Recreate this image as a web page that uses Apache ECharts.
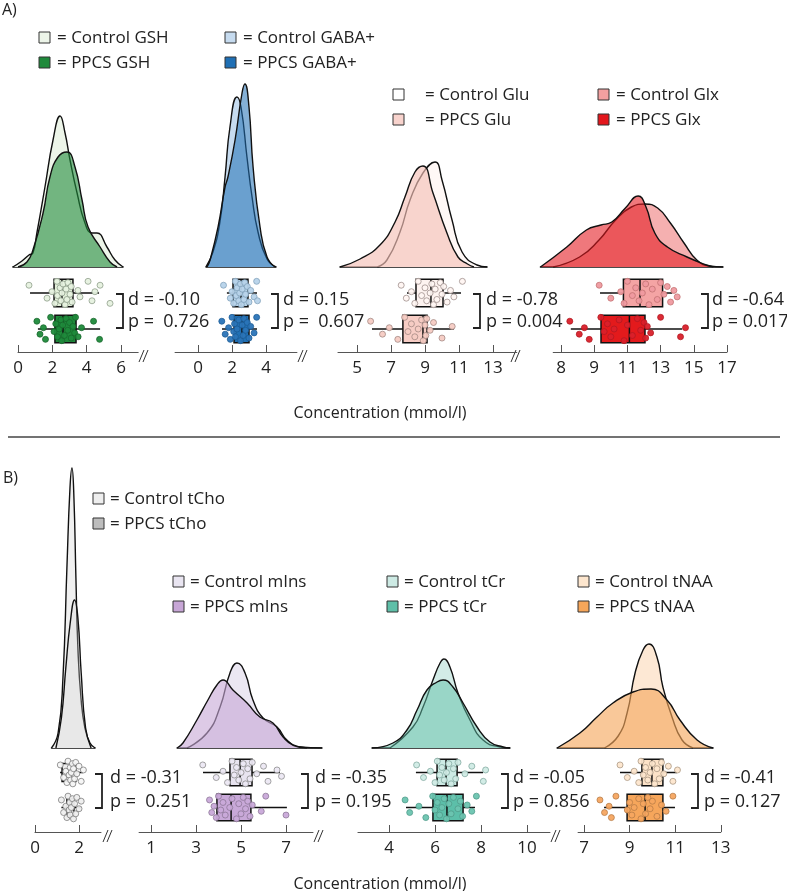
<!DOCTYPE html>
<html>
<head>
<meta charset="utf-8">
<script src="https://cdn.jsdelivr.net/npm/echarts@6/dist/echarts.min.js"></script>
<style>
  html, body { margin: 0; padding: 0; background: #fff; }
  #chart { width: 787px; height: 891px; }
</style>
</head>
<body>
<div id="chart"></div>
<script>
// metabolites, in drawing order (row A then row B)
const metabolites = ['GSH', 'GABA+', 'Glu', 'Glx', 'tCho', 'mIns', 'tCr', 'tNAA'];

// density curves [concentration, density (arbitrary units)]
const gshCtrlDensity = [[-0.3, 0], [0.23, 6], [0.64, 12], [0.87, 14], [1.1, 34], [1.57, 80], [2.04, 127], [2.45, 151], [2.74, 134], [3.03, 107], [3.44, 74], [3.9, 44], [4.31, 34], [4.6, 34], [5.18, 20], [5.65, 7], [6.12, 0]];
const gshPpcsDensity = [[0, 0], [0.52, 5], [0.87, 17], [1.46, 54], [1.86, 90], [2.33, 110], [2.85, 115], [3.32, 100], [3.73, 67], [4.08, 40], [4.78, 20], [5.36, 5], [5.77, 0]];
const gabaCtrlDensity = [[0.47, 0], [0.88, 15], [1.29, 45], [1.59, 90], [1.88, 140], [2.29, 170], [2.53, 160], [2.88, 110], [3.18, 70], [3.53, 35], [4.06, 8], [4.59, 0]];
const gabaPpcsDensity = [[0.53, 0], [0.71, 7], [1.18, 40], [1.59, 80], [1.76, 90], [2.18, 127], [2.59, 174], [2.76, 183], [3.0, 160], [3.24, 100], [3.65, 40], [4.06, 10], [4.53, 0]];
const gluCtrlDensity = [[6.2, 0], [6.76, 7], [7.53, 35], [8.12, 67], [8.88, 94], [9.59, 105], [10.0, 87], [10.59, 47], [11.18, 15], [12.06, 2], [12.65, 0]];
const gluPpcsDensity = [[4.0, 0], [5.18, 8], [6.35, 22], [7.24, 45], [7.82, 70], [8.41, 95], [8.88, 101], [9.47, 74], [10.29, 34], [10.94, 10], [11.5, 3], [11.88, 0]];
const glxCtrlDensity = [[6.53, 0], [8.12, 10], [9.29, 27], [10.29, 47], [11.24, 60], [12.06, 63], [12.82, 59], [13.59, 44], [14.41, 24], [15.18, 7], [15.94, 1], [16.76, 0]];
const glxPpcsDensity = [[5.76, 0], [7.35, 20], [8.53, 37], [9.41, 42], [10.06, 45], [10.88, 59], [11.65, 71], [12.12, 60], [12.65, 34], [13.41, 20], [14.59, 10], [15.76, 2], [16.18, 0]];
const tchoCtrlDensity = [[0.75, 0], [1.05, 15], [1.27, 70], [1.45, 180], [1.59, 260], [1.68, 280], [1.77, 250], [1.86, 170], [1.95, 100], [2.09, 50], [2.27, 20], [2.5, 5], [2.73, 0]];
const tchoPpcsDensity = [[0.95, 0], [1.2, 30], [1.4, 80], [1.6, 125], [1.8, 148], [1.95, 130], [2.1, 75], [2.3, 20], [2.55, 0]];
const minsCtrlDensity = [[2.6, 0], [3.49, 15], [4.07, 41], [4.51, 75], [4.82, 85], [5.18, 75], [5.53, 48], [5.98, 30], [6.6, 21], [7.04, 8], [7.62, 1], [8.6, 0]];
const minsPpcsDensity = [[2.16, 0], [2.42, 5], [3.04, 28], [3.53, 48], [3.93, 63], [4.2, 68], [4.64, 58], [5.27, 45], [5.84, 31], [6.42, 25], [6.87, 11], [7.31, 3], [7.93, 0]];
const tcrCtrlDensity = [[4.04, 0], [5.04, 21], [5.48, 41], [5.91, 68], [6.22, 85], [6.39, 89], [6.65, 81], [7.0, 55], [7.52, 28], [8.09, 8], [8.83, 1], [9.26, 0]];
const tcrPpcsDensity = [[3.26, 0], [4.17, 5], [4.78, 18], [5.22, 38], [5.65, 58], [6.09, 66], [6.35, 68], [6.78, 61], [7.22, 45], [7.83, 21], [8.39, 6], [8.96, 1], [9.26, 0]];
const tnaaCtrlDensity = [[7.9, 0], [8.5, 12], [8.89, 35], [9.24, 75], [9.59, 98], [9.85, 104], [10.2, 91], [10.46, 61], [10.86, 31], [11.3, 8], [11.78, 0]];
const tnaaPpcsDensity = [[5.82, 0], [6.82, 15], [7.57, 31], [8.27, 45], [9.15, 56], [9.94, 59], [10.64, 48], [11.21, 28], [11.96, 8], [12.66, 0]];

// box plots [min, Q1, median, Q3, max]
const gshCtrlBox = [0.70, 2.10, 2.56, 3.20, 4.72];
const gshPpcsBox = [1.16, 2.15, 2.62, 3.38, 4.78];
const gabaCtrlBox = [1.70, 2.06, 2.53, 2.94, 3.47];
const gabaPpcsBox = [1.41, 2.12, 2.59, 3.00, 3.47];
const gluCtrlBox = [7.94, 8.47, 9.35, 10.06, 11.12];
const gluPpcsBox = [5.88, 7.70, 8.88, 9.12, 10.70];
const glxCtrlBox = [9.35, 10.76, 11.76, 13.12, 13.70];
const glxPpcsBox = [7.59, 9.41, 11.12, 12.06, 14.30];
const tchoCtrlBox = [1.14, 1.23, 1.64, 1.86, 2.18];
const tchoPpcsBox = [1.20, 1.45, 1.59, 1.77, 2.10];
const minsCtrlBox = [3.31, 4.51, 4.96, 5.49, 6.73];
const minsPpcsBox = [3.80, 3.93, 4.56, 5.44, 7.04];
const tcrCtrlBox = [5.17, 6.09, 6.48, 6.96, 8.09];
const tcrPpcsBox = [4.74, 5.91, 6.52, 7.22, 7.74];
const tnaaCtrlBox = [8.58, 9.54, 9.98, 10.46, 11.08];
const tnaaPpcsBox = [7.88, 8.89, 9.68, 10.46, 10.99];

// individual subjects (mmol/l)
const gshCtrlPts = [0.64, 1.69, 1.98, 2.15, 2.27, 2.3, 2.45, 2.5, 2.56, 2.62, 2.74, 2.8, 2.85, 2.91, 3.03, 3.1, 3.15, 3.49, 3.61, 4.08, 4.31, 4.48, 4.78, 5.36];
const gshPpcsPts = [1.1, 1.28, 1.48, 1.6, 1.9, 2.1, 2.2, 2.3, 2.4, 2.5, 2.55, 2.6, 2.7, 2.8, 2.9, 3.0, 3.1, 3.2, 3.3, 3.35, 3.5, 3.7, 4.4, 4.75];
const gabaCtrlPts = [1.5, 1.9, 2.0, 2.1, 2.2, 2.25, 2.3, 2.4, 2.45, 2.5, 2.55, 2.6, 2.7, 2.75, 2.8, 2.9, 3.0, 3.1, 3.3, 3.45, 3.5];
const gabaPpcsPts = [1.4, 1.6, 1.8, 1.9, 2.0, 2.1, 2.15, 2.2, 2.3, 2.4, 2.5, 2.6, 2.65, 2.7, 2.8, 2.9, 3.0, 3.1, 3.3, 3.45];
const gluCtrlPts = [7.6, 7.9, 8.2, 8.4, 8.6, 8.8, 9.0, 9.1, 9.3, 9.4, 9.5, 9.6, 9.7, 9.9, 10.0, 10.1, 10.3, 10.5, 10.7, 11.2];
const gluPpcsPts = [5.8, 6.5, 6.9, 7.4, 7.8, 8.0, 8.2, 8.4, 8.6, 8.8, 8.9, 9.0, 9.05, 9.1, 9.3, 9.5, 10.0, 10.6];
const glxCtrlPts = [9.3, 10.0, 10.6, 10.8, 11.0, 11.3, 11.5, 11.7, 11.9, 12.1, 12.3, 12.5, 12.8, 13.0, 13.2, 13.4, 13.6, 13.8, 14.0];
const glxPpcsPts = [7.53, 8.1, 8.41, 8.7, 9.4, 9.6, 9.8, 10.0, 10.2, 10.5, 10.8, 11.0, 11.3, 11.6, 11.8, 12.0, 12.1, 12.2, 12.4, 13.0, 14.2, 14.5];
const tchoCtrlPts = [1.15, 1.3, 1.4, 1.45, 1.5, 1.55, 1.6, 1.62, 1.65, 1.7, 1.72, 1.75, 1.8, 1.85, 1.9, 2.0, 2.1, 2.2];
const tchoPpcsPts = [1.2, 1.3, 1.4, 1.45, 1.5, 1.55, 1.58, 1.6, 1.65, 1.7, 1.75, 1.8, 1.85, 1.9, 2.0, 2.1];
const minsCtrlPts = [3.3, 3.9, 4.2, 4.4, 4.6, 4.7, 4.8, 4.9, 5.0, 5.1, 5.2, 5.3, 5.4, 5.5, 5.7, 6.0, 6.2, 6.6, 6.8];
const minsPpcsPts = [3.6, 3.7, 3.8, 3.9, 4.0, 4.1, 4.2, 4.3, 4.5, 4.6, 4.8, 4.9, 5.0, 5.1, 5.2, 5.3, 5.4, 5.5, 5.9, 6.1, 7.0];
const tcrCtrlPts = [5.2, 5.5, 5.8, 6.0, 6.1, 6.2, 6.3, 6.4, 6.5, 6.6, 6.7, 6.8, 6.9, 7.0, 7.3, 7.6, 8.1, 8.2];
const tcrPpcsPts = [4.7, 4.9, 5.3, 5.6, 5.9, 6.0, 6.1, 6.2, 6.3, 6.4, 6.5, 6.6, 6.7, 6.8, 7.0, 7.1, 7.2, 7.4, 7.6, 7.8];
const tnaaCtrlPts = [8.58, 8.9, 9.2, 9.4, 9.5, 9.6, 9.7, 9.8, 9.9, 10.0, 10.1, 10.2, 10.3, 10.4, 10.5, 10.7, 10.9, 11.1];
const tnaaPpcsPts = [7.7, 7.9, 8.1, 8.2, 8.4, 8.9, 9.0, 9.1, 9.2, 9.4, 9.5, 9.6, 9.7, 9.8, 9.9, 10.0, 10.2, 10.4, 10.6, 10.9];

// vertical scatter of the dots inside a box row (-1..1)
const jitter = [0.6, -0.4, 0.1, -0.8, 0.9, -0.2, 0.4, -0.6, 0.0, 0.7, -0.9, 0.3, -0.5, 0.8, -0.1, 0.5, -0.7, 0.2, -0.3, 0.9, -0.6, 0.1, 0.6, -0.8, 0.4];

// effect sizes and p values
const dLabels = ['-0.10', '0.15', '-0.78', '-0.64', '-0.31', '-0.35', '-0.05', '-0.41'];
const pLabels = [' 0.726', ' 0.607', '0.004', '0.017', ' 0.251', '0.195', '0.856', '0.127'];

// tick values and labels
const gshTicks = [0, 2, 4, 6];
const gabaTicks = [0, 2, 4];
const gluTicks = [5, 7, 9, 11, 13];
const glxTicks = [7, 9, 11, 13, 15, 17];
const glxTickLabels = ['8', '9', '11', '13', '15', '17'];
const tchoTicks = [0, 2];
const minsTicks = [1, 3, 5, 7];
const tcrTicks = [4, 6, 8, 10];
const tnaaTicks = [7, 9, 11, 13];

const axisTitle = 'Concentration (mmol/l)';

// colours per metabolite: c/p density fills (a = ppcs alpha), cd/ce and pd/pe dots, cb/pb boxes
const palette = {
    'GSH':   { c: '#edf5e9', p: '#1f8a3b', a: 0.6, cd: '#e6f1df', ce: '#8a9a86', pd: '#1f8a3b', pe: '#16652b', cb: '#e3f0da', pb: '#1f8a3b' },
    'GABA+': { c: '#c6dbef', p: '#1f6fb4', a: 0.55, cd: '#b7d3ea', ce: '#7f9fb8', pd: '#2a74b8', pe: '#1b5a94', cb: '#b9d5ea', pb: '#2171b5' },
    'Glu':   { c: '#fff8f6', p: '#f4c0b7', a: 0.65, cd: '#fff5f2', ce: '#9a8a88', pd: '#f6cbc3', pe: '#a08580', cb: '#fdf3f0', pb: '#f7cdc5' },
    'Glx':   { c: '#f5b0b0', p: '#e3171d', a: 0.58, cd: '#ef9aa0', ce: '#c07070', pd: '#d9202a', pe: '#b01820', cb: '#f4a4a4', pb: '#e31a1c' },
    'tCho':  { c: '#f0f0f0', p: '#d6d6d6', a: 0.3, cd: '#f5f5f5', ce: '#777777', pd: '#eeeeee', pe: '#777777', cb: '#eeeeee', pb: '#dddddd' },
    'mIns':  { c: '#ebe7f2', p: '#c7a6d6', a: 0.6, cd: '#ece8f3', ce: '#888888', pd: '#c9a9d9', pe: '#8a7595', cb: '#e8e4f0', pb: '#c8a8d8' },
    'tCr':   { c: '#d3ece7', p: '#5fbfa8', a: 0.5, cd: '#d0ebe5', ce: '#7fa79e', pd: '#6cc4b0', pe: '#4e9a89', cb: '#cdebe5', pb: '#5cbfa9' },
    'tNAA':  { c: '#fde8d4', p: '#f6a65a', a: 0.62, cd: '#fde6cd', ce: '#a89580', pd: '#f5a560', pe: '#b47a45', cb: '#fde3c8', pb: '#f6a65b' }
};
const legendSwatch = {
    'GSH': ['#edf5e9', '#1f8a3b'], 'GABA+': ['#c6dbef', '#1f6fb4'], 'Glu': ['#ffffff', '#f8d3cd'], 'Glx': ['#f2a0a0', '#e3171d'],
    'tCho': ['#eeeeee', '#bdbdbd'], 'mIns': ['#e9e5f1', '#c7a6d6'], 'tCr': ['#cdeae4', '#5fbfa8'], 'tNAA': ['#fde6ce', '#f6a65a']
};

// layout of the two rows
const rows = [
    { densTop: 60, densH: 207, densMax: 207, boxTop: 275, boxH: 72, axisY: 352, statTop: 294, statBot: 328, dY: 300, pY: 322, titleY: 413 },
    { densTop: 460, densH: 288, densMax: 288, boxTop: 755, boxH: 70, axisY: 832, statTop: 774, statBot: 808, dY: 778, pY: 802, titleY: 884 }
];

// per panel pixel mapping (px0 = pixel of value v0, scale = px per unit)
const panels = [
    { row: 0, px0: 18, v0: 0, scale: 17.17, axis: [0, 7.0], ticks: gshTicks, dens: [gshCtrlDensity, gshPpcsDensity], box: [gshCtrlBox, gshPpcsBox], pts: [gshCtrlPts, gshPpcsPts], brk: 143, leg: [39, 38, 57], stat: [123, 128], bh: 0.76 },
    { row: 0, px0: 198, v0: 0, scale: 17, axis: [-1.35, 5.82], ticks: gabaTicks, dens: [gabaCtrlDensity, gabaPpcsDensity], box: [gabaCtrlBox, gabaPpcsBox], pts: [gabaCtrlPts, gabaPpcsPts], brk: 302, leg: [225, 38, 243], stat: [278, 283], bh: 0.76 },
    { row: 0, px0: 357, v0: 5, scale: 17, axis: [3.88, 14.4], ticks: gluTicks, dens: [gluCtrlDensity, gluPpcsDensity], box: [gluCtrlBox, gluPpcsBox], pts: [gluCtrlPts, gluPpcsPts], brk: 515, leg: [393, 95, 425], stat: [480, 486], bh: 0.76 },
    { row: 0, px0: 561, v0: 7, scale: 16.6, axis: [6.53, 17], ticks: glxTicks, labels: glxTickLabels, dens: [glxCtrlDensity, glxPpcsDensity], box: [glxCtrlBox, glxPpcsBox], pts: [glxCtrlPts, glxPpcsPts], brk: null, leg: [598, 95, 616], stat: [708, 712], bh: 0.76 },
    { row: 1, px0: 35, v0: 0, scale: 22, axis: [0, 3.0], ticks: tchoTicks, dens: [tchoCtrlDensity, tchoPpcsDensity], box: [tchoCtrlBox, tchoPpcsBox], pts: [tchoCtrlPts, tchoPpcsPts], brk: 107, leg: [93, 499, 110], stat: [102, 110], bh: 0.52 },
    { row: 1, px0: 151, v0: 1, scale: 22.5, axis: [0.47, 8.2], ticks: minsTicks, dens: [minsCtrlDensity, minsPpcsDensity], box: [minsCtrlBox, minsPpcsBox], pts: [minsCtrlPts, minsPpcsPts], brk: 318, leg: [173, 582, 190], stat: [308, 315], bh: 0.76 },
    { row: 1, px0: 389, v0: 4, scale: 23, axis: [2.65, 11.0], ticks: tcrTicks, dens: [tcrCtrlDensity, tcrPpcsDensity], box: [tcrCtrlBox, tcrPpcsBox], pts: [tcrCtrlPts, tcrPpcsPts], brk: 555, leg: [387, 582, 404], stat: [508, 513], bh: 0.76 },
    { row: 1, px0: 584, v0: 7, scale: 22.8, axis: [6.74, 13], ticks: tnaaTicks, dens: [tnaaCtrlDensity, tnaaPpcsDensity], box: [tnaaCtrlBox, tnaaPpcsBox], pts: [tnaaCtrlPts, tnaaPpcsPts], brk: null, leg: [578, 582, 595], stat: [698, 704], bh: 0.76 }
];

const FONT = '"Open Sans", "Noto Sans", sans-serif';
const toPx = (p, v) => p.px0 + (v - p.v0) * p.scale;

const grids = [], xAxes = [], yAxes = [], series = [], graphics = [];

panels.forEach((p, i) => {
    const name = metabolites[i];
    const col = palette[name];
    const r = rows[p.row];
    const dLo = Math.min(p.dens[0][0][0], p.dens[1][0][0]);
    const dHi = Math.max(p.dens[0][p.dens[0].length - 1][0], p.dens[1][p.dens[1].length - 1][0]);
    const gd = 2 * i, gb = 2 * i + 1;

    // density grid
    grids.push({ left: toPx(p, dLo), width: (dHi - dLo) * p.scale, top: r.densTop, height: r.densH, outerBoundsMode: 'none' });
    xAxes.push({
        gridIndex: gd, type: 'value', min: dLo, max: dHi,
        axisLine: { show: true, onZero: false, lineStyle: { color: '#111', width: 1.5 } },
        axisTick: { show: false }, axisLabel: { show: false }, splitLine: { show: false }
    });
    yAxes.push({ gridIndex: gd, type: 'value', min: 0, max: r.densMax, show: false, splitLine: { show: false } });

    // box grid
    grids.push({ left: toPx(p, p.axis[0]), width: (p.axis[1] - p.axis[0]) * p.scale, top: r.boxTop, height: r.boxH, outerBoundsMode: 'none' });
    xAxes.push({
        gridIndex: gb, type: 'value', min: p.axis[0], max: p.axis[1],
        offset: r.axisY - (r.boxTop + r.boxH),
        axisLine: { show: true, onZero: false, lineStyle: { color: '#555', width: 1 } },
        axisTick: { show: true, inside: true, length: 7, customValues: p.ticks, lineStyle: { color: '#555', width: 1 } },
        axisLabel: {
            show: true, customValues: p.ticks, fontSize: 17, color: '#222', margin: 8, fontFamily: FONT,
            formatter: v => p.labels ? p.labels[p.ticks.indexOf(v)] : String(v)
        },
        splitLine: { show: false }
    });
    yAxes.push({ gridIndex: gb, type: 'value', min: 0, max: 2, show: false, splitLine: { show: false } });

    // densities
    series.push({
        type: 'line', name: 'Control ' + name, xAxisIndex: gd, yAxisIndex: gd, data: p.dens[0],
        smooth: 0.5, symbol: 'none', z: 2,
        lineStyle: { color: '#111', width: 1.4 }, areaStyle: { color: col.c, opacity: 1 }
    });
    series.push({
        type: 'line', name: 'PPCS ' + name, xAxisIndex: gd, yAxisIndex: gd, data: p.dens[1],
        smooth: 0.5, symbol: 'none', z: 3,
        lineStyle: { color: '#111', width: 1.4 }, areaStyle: { color: col.p, opacity: col.a }
    });

    // boxes
    series.push({
        type: 'custom', xAxisIndex: gb, yAxisIndex: gb, z: 4,
        encode: { x: [1, 2, 3, 4, 5], y: 0 },
        data: [
            { value: [1.5].concat(p.box[0]), itemStyle: { color: col.cb } },
            { value: [0.5].concat(p.box[1]), itemStyle: { color: col.pb } }
        ],
        renderItem: (params, api) => {
            const y = api.value(0);
            const lo = api.coord([api.value(1), y]);
            const q1 = api.coord([api.value(2), y]);
            const md = api.coord([api.value(3), y]);
            const q3 = api.coord([api.value(4), y]);
            const hi = api.coord([api.value(5), y]);
            const h = api.size([0, p.bh])[1];
            const st = { stroke: '#111', lineWidth: 1.5 };
            return {
                type: 'group', children: [
                    { type: 'line', shape: { x1: lo[0], y1: lo[1], x2: q1[0], y2: q1[1] }, style: st },
                    { type: 'line', shape: { x1: q3[0], y1: q3[1], x2: hi[0], y2: hi[1] }, style: st },
                    { type: 'rect', shape: { x: q1[0], y: q1[1] - h / 2, width: q3[0] - q1[0], height: h }, style: { fill: api.visual('color'), stroke: '#111', lineWidth: 1.5 } },
                    { type: 'line', shape: { x1: md[0], y1: md[1] - h / 2, x2: md[0], y2: md[1] + h / 2 }, style: st }
                ]
            };
        }
    });

    // dots
    [[p.pts[0], 1.5, col.cd, col.ce], [p.pts[1], 0.5, col.pd, col.pe]].forEach(([pts, yc, fill, edge]) => {
        series.push({
            type: 'scatter', xAxisIndex: gb, yAxisIndex: gb, z: 5, symbolSize: 6,
            data: pts.map((v, k) => [v, yc + jitter[k % jitter.length] * 0.36]),
            itemStyle: { color: fill, borderColor: edge, borderWidth: 0.8, opacity: 0.95 }
        });
    });

    // legend
    const sw = legendSwatch[name];
    ['Control ' + name, 'PPCS ' + name].forEach((label, k) => {
        const yy = p.leg[1] + k * 25;
        graphics.push({ type: 'rect', shape: { x: p.leg[0], y: yy - 6, width: 11, height: 11 }, style: { fill: sw[k], stroke: '#333', lineWidth: 1 } });
        graphics.push({ type: 'text', x: p.leg[2], y: yy, style: { text: '= ' + label, font: '17px ' + FONT, fill: '#222', textVerticalAlign: 'middle' } });
    });

    // bracket and statistics
    const bx = p.stat[0];
    graphics.push({ type: 'polyline', shape: { points: [[bx - 7, r.statTop], [bx, r.statTop], [bx, r.statBot], [bx - 7, r.statBot]] }, style: { stroke: '#222', lineWidth: 1.8, fill: null } });
    graphics.push({ type: 'text', x: p.stat[1], y: r.dY, style: { text: 'd = ' + dLabels[i], font: '18px ' + FONT, fill: '#222', textVerticalAlign: 'middle' } });
    graphics.push({ type: 'text', x: p.stat[1], y: r.pY, style: { text: 'p = ' + pLabels[i], font: '18px ' + FONT, fill: '#222', textVerticalAlign: 'middle' } });

    // axis break
    if (p.brk !== null) {
        const yb = r.axisY + 4;
        [0, 4].forEach(dx => {
            graphics.push({ type: 'line', shape: { x1: p.brk - 4 + dx, y1: yb + 6, x2: p.brk + 1 + dx, y2: yb - 6 }, style: { stroke: '#333', lineWidth: 1 } });
        });
    }
});

// panel letters, axis titles, separator
graphics.push({ type: 'text', x: 2, y: 10, style: { text: 'A)', font: '16px ' + FONT, fill: '#222', textVerticalAlign: 'middle' } });
graphics.push({ type: 'text', x: 3, y: 478, style: { text: 'B)', font: '16px ' + FONT, fill: '#222', textVerticalAlign: 'middle' } });
rows.forEach(r => {
    graphics.push({ type: 'text', x: 380, y: r.titleY, style: { text: axisTitle, font: '16px ' + FONT, fill: '#222', textAlign: 'center', textVerticalAlign: 'middle' } });
});
graphics.push({ type: 'line', shape: { x1: 8, y1: 437, x2: 780, y2: 437 }, style: { stroke: '#444', lineWidth: 1.5 } });

const chart = echarts.init(document.getElementById('chart'), null, { renderer: 'canvas' });
chart.setOption({
    animation: false,
    backgroundColor: '#fff',
    textStyle: { fontFamily: FONT },
    grid: grids,
    xAxis: xAxes,
    yAxis: yAxes,
    series: series,
    graphic: graphics
});
</script>
</body>
</html>
